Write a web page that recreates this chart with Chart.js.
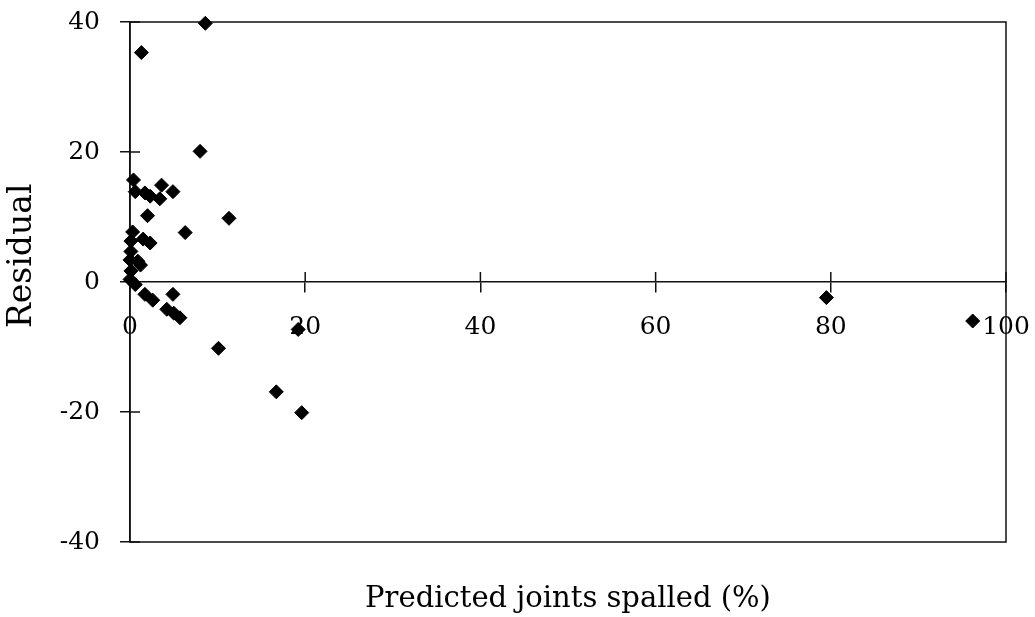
<!DOCTYPE html>
<html>
<head>
<meta charset="utf-8">
<script src="https://cdn.jsdelivr.net/npm/chart.js@4/dist/chart.umd.min.js"></script>
<style>
  html, body { margin: 0; padding: 0; background: #fff; }
  #wrap { width: 1035px; height: 617px; }
</style>
</head>
<body>
<div id="wrap"><canvas id="residChart" width="1035" height="617"></canvas></div>
<script>
// predicted joints spalled (%) vs residual
const predicted = [8.6, 1.3, 8.0, 0.4, 0.6, 1.7, 2.3, 3.6, 3.4, 4.9, 2.0, 11.3, 6.3, 0.3, 1.5, 2.3,
  0.1, 0.1, 0.9, 0.0, 1.2, 0.1, 0.0, 0.6, 1.7, 2.6, 4.9, 4.2, 5.0, 5.7, 10.1, 16.7, 19.6, 19.2, 79.5, 96.2];
const residual = [39.8, 35.3, 20.1, 15.7, 13.9, 13.7, 13.2, 14.9, 12.8, 13.9, 10.2, 9.8, 7.6, 7.7, 6.6, 6.0,
  6.3, 4.7, 3.2, 3.4, 2.6, 1.7, 0.4, -0.4, -1.9, -2.8, -1.9, -4.2, -4.8, -5.5, -10.2, -16.9, -20.1, -7.3, -2.4, -6.0];
const xTicks = [0, 20, 40, 60, 80, 100];
const yTicks = [-40, -20, 0, 20, 40];

const serif = "'DejaVu Serif', serif";
Chart.defaults.font.family = serif;
Chart.defaults.color = '#000';

const points = predicted.map((p, i) => ({x: p, y: residual[i]}));

// frame round the plot + the inner half of the crossing tick marks
const framePlugin = {
  id: 'frame',
  beforeDatasetsDraw(chart) {
    const {ctx, chartArea: a, scales} = chart;
    ctx.save();
    ctx.strokeStyle = '#111';
    ctx.lineWidth = 1.5;
    ctx.strokeRect(a.left, a.top, a.right - a.left, a.bottom - a.top);
    const y0 = scales.y.getPixelForValue(0);
    ctx.beginPath();
    xTicks.forEach(v => {
      if (v === 0) return;
      const px = scales.x.getPixelForValue(v);
      ctx.moveTo(px, y0 - 10);
      ctx.lineTo(px, y0);
    });
    yTicks.forEach(v => {
      const py = scales.y.getPixelForValue(v);
      ctx.moveTo(a.left, py);
      ctx.lineTo(a.left + 10, py);
    });
    ctx.stroke();
    ctx.restore();
  }
};

const ctx = document.getElementById('residChart').getContext('2d');
new Chart(ctx, {
  type: 'scatter',
  data: {
    datasets: [{
      data: points,
      pointStyle: 'rectRot',
      pointRadius: 7,
      pointHoverRadius: 7,
      borderWidth: 1,
      backgroundColor: '#000',
      borderColor: '#000',
      clip: false
    }]
  },
  options: {
    responsive: false,
    animation: false,
    layout: {padding: {top: 22, right: 29, bottom: 0, left: 0}},
    plugins: {
      legend: {display: false},
      tooltip: {enabled: false}
    },
    scales: {
      x: {
        type: 'linear',
        position: {y: 0},
        min: 0,
        max: 100,
        afterBuildTicks: s => { s.ticks = xTicks.map(v => ({value: v})); },
        afterFit: s => { s.height = 0; s.paddingLeft = 0; s.paddingRight = 0; },
        ticks: {font: {size: 25}, padding: 20, maxRotation: 0},
        grid: {drawOnChartArea: false, tickLength: 10, color: '#111', lineWidth: 1.5},
        border: {display: true, color: '#111', width: 1.5}
      },
      xTitle: {
        type: 'linear',
        axis: 'x',
        position: 'bottom',
        ticks: {display: false},
        grid: {display: false, drawTicks: false},
        border: {display: false},
        afterFit: s => { s.height = 75; s.paddingLeft = 0; s.paddingRight = 0; },
        title: {
          display: true,
          text: 'Predicted joints spalled (%)',
          font: {size: 29},
          padding: {top: 0, bottom: 0}
        }
      },
      y: {
        type: 'linear',
        position: 'left',
        min: -40,
        max: 40,
        afterBuildTicks: s => { s.ticks = yTicks.map(v => ({value: v})); },
        afterFit: s => { s.width = 130; s.paddingTop = 0; s.paddingBottom = 0; },
        ticks: {font: {size: 25}, padding: 20},
        grid: {drawOnChartArea: false, tickLength: 10, color: '#111', lineWidth: 1.5},
        border: {display: true, color: '#111', width: 1.5},
        title: {
          display: true,
          text: '     Residual',
          font: {size: 33},
          padding: {top: 3, bottom: 0}
        }
      }
    }
  },
  plugins: [framePlugin]
});
</script>
</body>
</html>
